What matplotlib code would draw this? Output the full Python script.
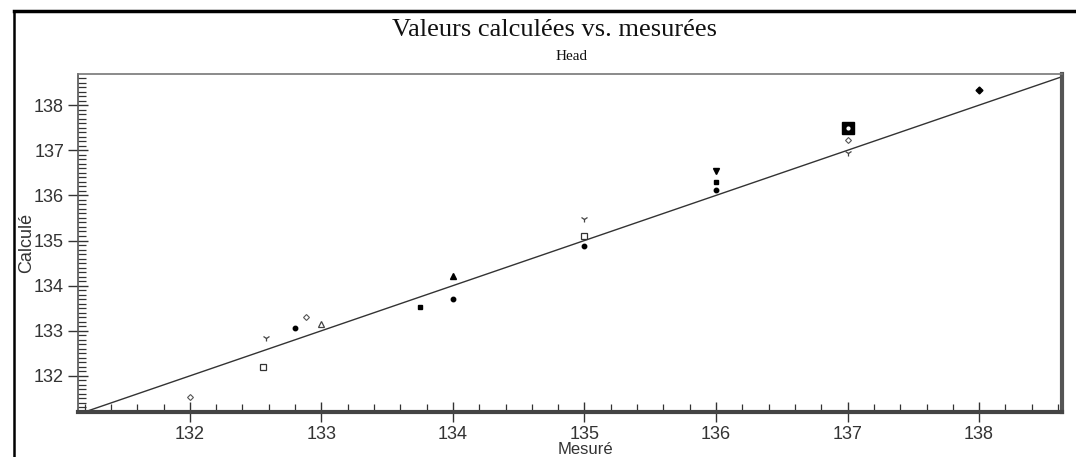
import matplotlib
matplotlib.use("Agg")
import matplotlib.pyplot as plt
from matplotlib.ticker import MultipleLocator
from matplotlib.lines import Line2D

# ---- data (measured vs calculated head) ----
title = "Valeurs calculées vs. mesurées"
subtitle = "Head"
x_label = "Mesuré"
y_label = "Calculé"

s1_meas = [132.0, 132.88, 137.0]          # open diamond
s1_calc = [131.54, 133.30, 137.22]
s2_meas = [132.56, 135.0]                 # open square
s2_calc = [132.20, 135.10]
s3_meas = [132.58, 135.0, 137.0]          # tri-down
s3_calc = [132.84, 135.48, 136.93]
s4_meas = [132.80, 134.0, 135.0, 136.0]   # filled circle
s4_calc = [133.06, 133.70, 134.88, 136.13]
s5_meas = [133.0]                         # open triangle
s5_calc = [133.15]
s6_meas = [133.75, 136.0]                 # filled square
s6_calc = [133.53, 136.30]
s7_meas = [134.0]                         # filled triangle up
s7_calc = [134.22]
s8_meas = [136.0]                         # filled triangle down
s8_calc = [136.55]
s9_meas = [137.0]                         # large square
s9_calc = [137.49]
s10_meas = [138.0]                        # filled diamond
s10_calc = [138.33]

axis_min = 131.15
axis_max = 138.63

W, H = 1076, 457
fig = plt.figure(figsize=(W / 100, H / 100), dpi=100)
fig.patch.set_facecolor("white")

ax = fig.add_axes([78 / W, 1 - 412 / H, (1062 - 78) / W, (412 - 74) / H])
ax.set_xlim(axis_min, axis_max)
ax.set_ylim(axis_min + 0.05, axis_max + 0.06)

# 1:1 line
ax.plot([axis_min, axis_max + 0.1], [axis_min, axis_max + 0.1], color="#333333", lw=1.0, zorder=2)

k = dict(linestyle="none", zorder=3)
ax.plot(s1_meas, s1_calc, marker="D", ms=3, mfc="white", mec="#555555", mew=0.8, **k)
ax.plot(s2_meas, s2_calc, marker="s", ms=4, mfc="white", mec="#333333", mew=0.9, **k)
ax.plot(s3_meas, s3_calc, marker="1", ms=5, color="#444444", mew=0.9, **k)
ax.plot(s4_meas, s4_calc, marker="o", ms=3.2, color="black", **k)
ax.plot(s5_meas, s5_calc, marker="^", ms=4, mfc="white", mec="#444444", mew=0.9, **k)
ax.plot(s6_meas, s6_calc, marker="s", ms=3.2, color="black", **k)
ax.plot(s7_meas, s7_calc, marker="^", ms=4, color="black", **k)
ax.plot(s8_meas, s8_calc, marker="v", ms=4, color="black", **k)
ax.plot(s9_meas, s9_calc, marker="s", ms=8, mfc="black", mec="black", **k)
ax.plot(s9_meas, s9_calc, marker="o", ms=2, color="white", **k)
ax.plot(s10_meas, s10_calc, marker="D", ms=3.5, color="black", **k)

# ticks
ax.xaxis.set_major_locator(MultipleLocator(1))
ax.xaxis.set_minor_locator(MultipleLocator(0.2))
ax.yaxis.set_major_locator(MultipleLocator(1))
ax.yaxis.set_minor_locator(MultipleLocator(0.1))
ax.tick_params(which="major", direction="inout", length=14, width=1.0, color="#333333",
               labelsize=13, labelcolor="#333333", pad=3)
ax.tick_params(which="minor", direction="in", length=6, width=0.9, color="#333333")
for lab in ax.get_xticklabels() + ax.get_yticklabels():
    lab.set_family(["Liberation Sans", "DejaVu Sans"])

# spines: thin top/left, thick shadowed bottom/right
ax.spines["top"].set_color("#777777")
ax.spines["top"].set_linewidth(1.2)
ax.spines["left"].set_color("#555555")
ax.spines["left"].set_linewidth(1.2)
ax.spines["bottom"].set_color("#444444")
ax.spines["bottom"].set_linewidth(3.0)
ax.spines["right"].set_color("#555555")
ax.spines["right"].set_linewidth(3.0)

# outer frame (screenshot border)
fig.add_artist(Line2D([14 / W, 1.0], [1 - 11 / H, 1 - 11 / H], transform=fig.transFigure,
                      color="black", lw=2.5))
fig.add_artist(Line2D([14 / W, 14 / W], [0, 1 - 11 / H], transform=fig.transFigure,
                      color="black", lw=1.8))

serif = ["Liberation Serif", "DejaVu Serif"]
fig.text(555 / W, 1 - 30 / H, title, ha="center", va="center", fontsize=19,
         family=serif, color="#111111")
fig.text(572 / W, 1 - 57 / H, subtitle, ha="center", va="center", fontsize=11,
         family=serif, color="#111111")
fig.text(27 / W, 1 - 243 / H, y_label, ha="center", va="center", rotation=90,
         fontsize=13, family=["Liberation Sans", "DejaVu Sans"], color="#333333")
fig.text(585 / W, 0.5 / H, x_label, ha="center", va="bottom",
         fontsize=12, family=["Liberation Sans", "DejaVu Sans"], color="#333333")

fig.savefig("out.png", dpi=100, facecolor="white")
